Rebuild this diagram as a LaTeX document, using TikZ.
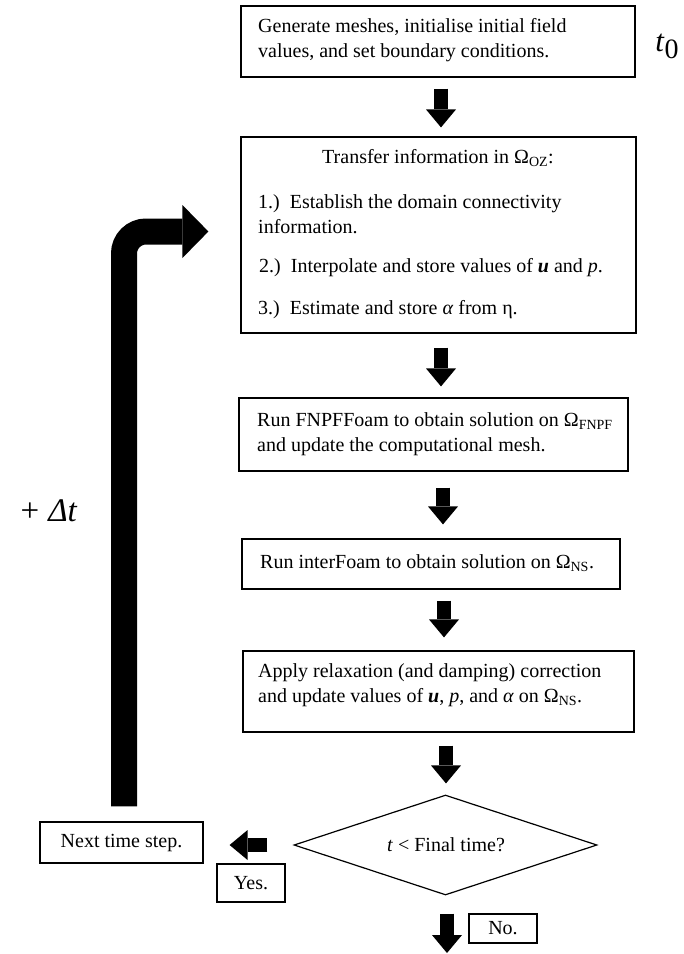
\documentclass[tikz,border=0pt]{standalone}
\usepackage{fontspec}
\setmainfont{Liberation Serif}
\usetikzlibrary{arrows.meta,shapes.geometric,calc}
\begin{document}
\begin{tikzpicture}[x=1pt,y=-1pt,
  box/.style={draw, line width=1.2pt, inner sep=0pt, font=\fontsize{20}{25}\selectfont},
  txt/.style={inner sep=0pt, align=left, anchor=west, font=\fontsize{20}{25}\selectfont},
  blk/.style={line width=14pt, -{Triangle[width=30pt,length=18pt,line width=0pt]}},
  loopar/.style={line width=26pt, rounded corners=22pt, -{Triangle[width=53pt,length=26pt,line width=0pt]}},
  big/.style={inner sep=0pt, font=\fontsize{31}{31}\selectfont}]
\useasboundingbox (0,0) rectangle (684,954);

% boxes
\node[box, minimum width=394pt, minimum height=71pt] (b1) at (438,41.5) {};
\node[txt] (b1t) at (258,40) {Generate meshes, initialise initial field\\values, and set boundary conditions.};

\node[box, minimum width=395pt, minimum height=196pt] (b2) at (438.5,235) {};
\node[txt, anchor=center] (b2h) at (438,158) {Transfer information in Ω\textsubscript{OZ}:};
\node[txt] (b2a) at (258,214.5) {1.)~~Establish the domain connectivity\\information.};
\node[txt] (b2b) at (259,268) {2.)~~Interpolate and store values of \textbf{\textit{u}} and \textit{p}.};
\node[txt] (b2c) at (258,310) {3.)~~Estimate and store \textit{α} from η.};

\node[box, minimum width=389pt, minimum height=73pt] (b3) at (433.5,434.5) {};
\node[txt] (b3t) at (257,434.5) {Run FNPFFoam to obtain solution on Ω\textsubscript{FNPF}\\and update the computational mesh.};

\node[box, minimum width=378pt, minimum height=50pt] (b4) at (431,564) {};
\node[txt] (b4t) at (260,563) {Run interFoam to obtain solution on Ω\textsubscript{NS}.};

\node[box, minimum width=391pt, minimum height=81pt] (b5) at (438.5,691.5) {};
\node[txt] (b5t) at (258,685) {Apply relaxation (and damping) correction\\and update values of \textbf{\textit{u}}, \textit{p}, and \textit{α} on Ω\textsubscript{NS}.};

\node[draw, line width=1.2pt, diamond, shape aspect=3.03, minimum width=303pt, minimum height=100pt, inner sep=0pt] (d) at (445.5,845) {};
\node[txt, anchor=center] (dt) at (446,845) {\textit{t} < Final time?};

\node[box, minimum width=163pt, minimum height=41pt] (nx) at (121.5,842.5) {Next time step.};
\node[box, minimum width=68pt, minimum height=38pt] (yes) at (251,883) {Yes.};
\node[box, minimum width=68pt, minimum height=29pt] (no) at (503,928.5) {No.};

% labels
\node[big] (t0) at (667,46) {\textit{t}\raisebox{-7pt}{\fontsize{28}{28}\selectfont 0}};
\node[big, font=\fontsize{33}{33}\selectfont] (dtl) at (49,511) {+\;\textit{Δt}};

% block arrows
\draw[blk] ([xshift=3pt,yshift=-11pt]b1.south) -- ([xshift=3pt,yshift=9pt]b1.south |- b2.north);
\draw[blk] ([xshift=2.5pt,yshift=-14pt]b2.south) -- ([xshift=2.5pt,yshift=11pt]b2.south |- b3.north);
\draw[blk] ([xshift=9.5pt,yshift=-16pt]b3.south) -- ([xshift=9.5pt,yshift=14pt]b3.south |- b4.north);
\draw[blk] ([xshift=13pt,yshift=-11pt]b4.south) -- ([xshift=13pt,yshift=13pt]b4.south |- b5.north);
\draw[blk] ([xshift=7.5pt,yshift=-13pt]b5.south) -- ([xshift=7.5pt,yshift=11pt]b5.south |- d.north);
\coordinate (fin) at (447,953);
\draw[blk] ([xshift=1.5pt,yshift=-18pt]d.south) -- (fin);
\draw[blk] ([xshift=-26pt]d.west) -- ([xshift=26pt]nx.east |- d.west);
\draw[loopar] ([xshift=2.5pt,yshift=15pt]nx.north) |- ([xshift=-32pt,yshift=3.5pt]b2.west);
\end{tikzpicture}
\end{document}
